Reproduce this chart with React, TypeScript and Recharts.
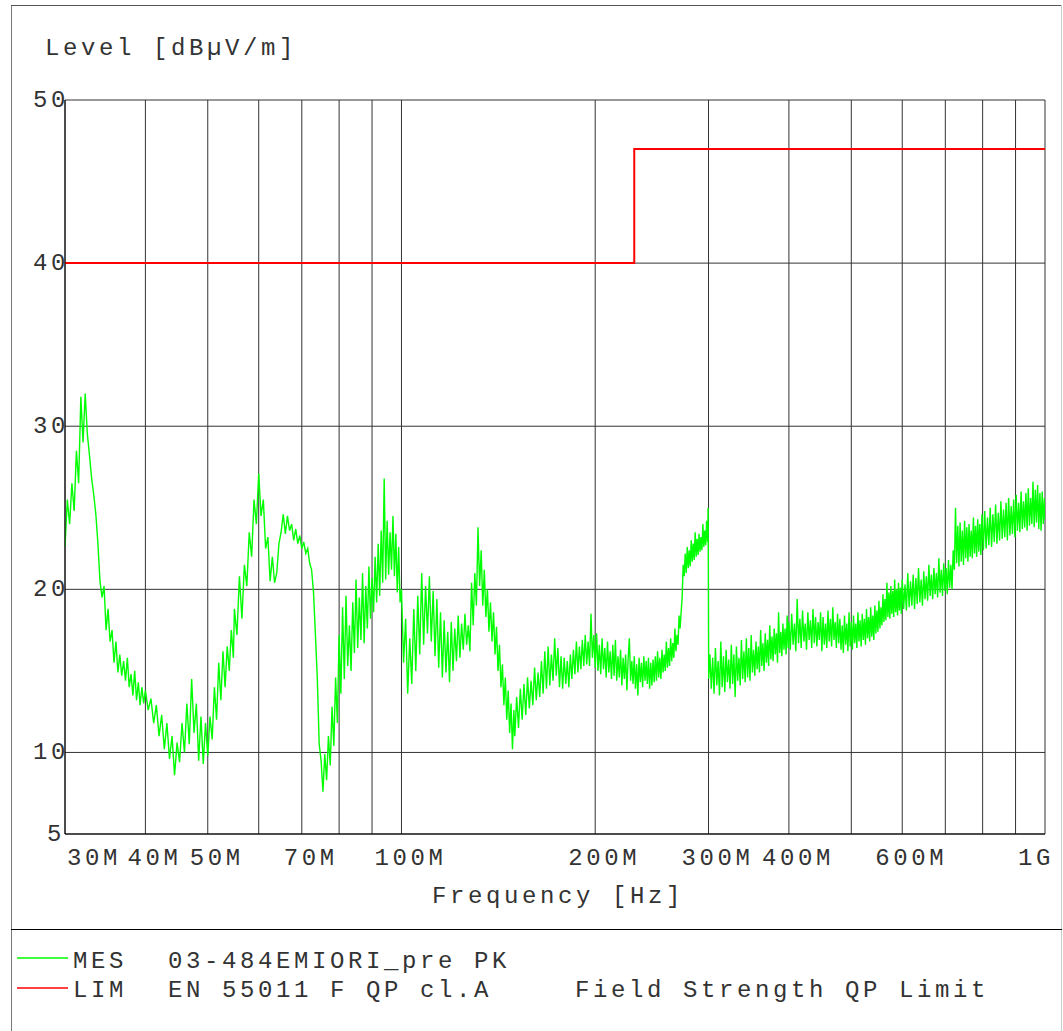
import { LineChart, Line, XAxis, YAxis, CartesianGrid } from "recharts";

// measured trace, [frequency MHz, level dBµV/m]
const mes30to75: [number, number][] = [
  [30, 22.6], [30.25, 25.5], [30.5, 24.0], [30.75, 26.5], [31, 24.8], [31.25, 28.5], [31.5, 26.5], [31.75, 31.8],
  [32, 29.0], [32.25, 32.0], [32.5, 29.5], [32.75, 28.2], [33, 26.8], [33.25, 25.8], [33.5, 24.6], [33.75, 22.8],
  [34, 20.5], [34.25, 19.5], [34.5, 20.2], [34.75, 17.5], [35, 18.8], [35.25, 16.8], [35.5, 17.5], [35.75, 15.5],
  [36, 16.8], [36.25, 14.9], [36.5, 16.0], [36.75, 14.7], [37, 15.6], [37.25, 14.4], [37.5, 15.8], [37.75, 14.0],
  [38, 14.8], [38.25, 13.5], [38.5, 15.0], [38.75, 13.2], [39, 14.3], [39.25, 12.9], [39.5, 14.0], [39.75, 13.0],
  [40, 13.8], [40.4, 12.6], [40.8, 13.3], [41.2, 11.8], [41.6, 12.9], [42, 11.0], [42.4, 12.3], [42.8, 10.2],
  [43.2, 11.8], [43.6, 9.6], [44, 11.0], [44.4, 8.6], [44.8, 10.6], [45.2, 9.4], [45.6, 11.8], [46, 10.0],
  [46.4, 13.0], [46.8, 10.5], [47.2, 14.5], [47.6, 11.2], [48, 13.0], [48.4, 9.5], [48.8, 12.2], [49.2, 9.3],
  [49.6, 11.8], [50, 9.8], [50.4, 12.2], [50.8, 10.8], [51.2, 14.0], [51.6, 12.0], [52, 15.5], [52.4, 13.2],
  [52.8, 16.2], [53.2, 14.0], [53.6, 16.5], [54, 15.0], [54.4, 17.5], [54.8, 15.8], [55, 18.8], [55.5, 17.2],
  [56, 20.8], [56.5, 18.2], [57, 21.5], [57.5, 20.2], [58, 23.5], [58.5, 22.0], [59, 25.5], [59.5, 24.0],
  [60, 27.1], [60.5, 24.5], [61, 25.5], [61.5, 22.5], [62, 23.2], [62.5, 20.5], [63, 22.0], [63.5, 20.4],
  [64, 21.0], [64.5, 22.8], [65, 23.5], [65.5, 24.6], [66, 23.4], [66.5, 24.5], [67, 23.6], [67.5, 24.0],
  [68, 23.0], [68.5, 23.7], [69, 22.8], [69.5, 23.3], [70, 22.5], [70.5, 22.9], [71, 22.2], [71.5, 22.5],
  [72, 21.6], [72.5, 21.2], [73, 19.8], [73.5, 17.2], [74, 14.5], [74.5, 10.5], [75, 9.5],
];

const mes75to100: [number, number][] = [
  [75.5, 7.6], [76, 9.9], [76.5, 8.3], [77, 11.0], [77.5, 9.2], [78, 12.8], [78.5, 10.4], [79, 14.6],
  [79.5, 11.8], [80, 17.2], [80.5, 13.6], [81, 18.9], [81.5, 14.5], [82, 19.6], [82.5, 15.3], [83, 17.8],
  [83.5, 15.0], [84, 19.2], [84.5, 16.1], [85, 20.6], [85.5, 16.4], [86, 19.5], [86.5, 16.9], [87, 21.0],
  [87.5, 16.7], [88, 20.2], [88.5, 17.6], [89, 21.4], [89.5, 18.2], [90, 20.7], [90.5, 18.6], [91, 22.0],
  [91.5, 19.2], [92, 22.8], [92.5, 19.6], [93, 23.6], [93.5, 20.4], [94, 26.8], [94.5, 20.6], [95, 24.2],
  [95.5, 20.9], [96, 23.5], [96.5, 21.2], [97, 24.5], [97.5, 20.8], [98, 23.4], [98.5, 19.8], [99, 22.6],
  [99.5, 19.2],
];

const mes100to200: [number, number][] = [
  [100, 20.0], [100.75, 15.5], [101.5, 18.2], [102.25, 13.6], [103, 17.0], [103.75, 14.2], [104.5, 18.8], [105.25, 15.0],
  [106, 19.6], [106.75, 16.0], [107.5, 21.0], [108.25, 16.6], [109, 20.2], [109.75, 17.3], [110.5, 20.8], [111.25, 16.8],
  [112, 19.9], [112.75, 15.9], [113.5, 19.4], [114.25, 15.2], [115, 18.6], [115.75, 14.6], [116.5, 18.1], [117.25, 14.9],
  [118, 17.4], [118.75, 14.3], [119.5, 18.0], [120.25, 15.0], [121, 17.6], [121.75, 15.6], [122.5, 18.4], [123.25, 15.8],
  [124, 17.9], [124.75, 16.3], [125.5, 18.5], [126.25, 16.6], [127, 17.8], [127.75, 16.2], [128.5, 20.4], [129.25, 17.8],
  [130, 21.0], [130.75, 19.0], [131.5, 23.8], [132.25, 20.2], [133, 22.4], [133.75, 19.0], [134.5, 21.2], [135.25, 18.3],
  [136, 20.0], [136.75, 17.4], [137.5, 19.2], [138.25, 16.8], [139, 18.6], [139.75, 16.0], [140.5, 17.7], [141.25, 15.0],
  [142, 16.6], [142.75, 14.0], [143.5, 15.4], [144.25, 12.9], [145, 14.6], [145.75, 12.0], [146.5, 13.8], [147.25, 11.2],
  [148, 13.0], [148.75, 10.2], [149.5, 12.6], [150, 11.0], [151, 13.4], [152, 11.5], [153, 13.9], [154, 12.0],
  [155, 14.2], [156, 12.3], [157, 14.6], [158, 12.7], [159, 14.4], [160, 12.9], [161, 15.2], [162, 13.2],
  [163, 14.9], [164, 13.4], [165, 15.6], [166, 13.6], [167, 16.2], [168, 13.9], [169, 16.5], [170, 14.1],
  [171, 16.0], [172, 14.4], [173, 17.0], [174, 14.7], [175, 16.4], [176, 14.0], [177, 15.9], [178, 13.9],
  [179, 15.8], [180, 14.2], [181, 15.6], [182, 14.0], [183, 16.0], [184, 14.5], [185, 16.3], [186, 14.8],
  [187, 16.8], [188, 14.9], [189, 16.5], [190, 15.1], [191, 16.9], [192, 15.3], [193, 17.2], [194, 15.4],
  [195, 16.8], [196, 15.3], [197, 18.5], [198, 15.8], [199, 17.2],
];

const mes200to300: [number, number][] = [
  [200, 15.2], [201, 17.3], [202, 15.0], [203, 16.6], [204, 14.8], [205, 17.0], [206, 15.1], [207, 16.4],
  [208, 14.6], [209, 16.8], [210, 14.9], [211, 16.2], [212, 14.5], [213, 16.6], [214, 14.7], [215, 16.9],
  [216, 14.4], [217, 15.9], [218, 14.6], [219, 16.3], [220, 14.1], [221, 15.8], [222, 14.5], [223, 16.0],
  [224, 13.8], [225, 15.7], [226, 17.0], [227, 14.4], [228, 15.6], [229, 14.2], [230, 15.9], [231, 13.9],
  [232, 15.4], [233, 13.5], [234, 15.8], [235, 14.3], [236, 15.5], [237, 14.0], [238, 15.9], [239, 14.4],
  [240, 15.6], [241, 14.2], [242, 15.8], [243, 13.9], [244, 15.5], [245, 14.1], [246, 15.7], [247, 14.3],
  [248, 15.9], [249, 14.4], [250, 16.2], [251, 14.6], [252, 15.8], [253, 14.5], [254, 16.3], [255, 14.9],
  [256, 16.0], [257, 15.0], [258, 16.8], [259, 15.2], [260, 16.4], [261, 15.3], [262, 17.0], [263, 15.6],
  [264, 16.7], [265, 15.8], [266, 17.6], [267, 16.2], [268, 17.2], [269, 16.6], [270, 18.4], [271, 17.6],
  [272, 18.6], [273, 19.5], [274, 21.5], [275, 20.8], [276, 22.2], [277, 21.0], [278, 22.6], [279, 21.3],
  [280, 22.4], [281, 21.4], [282, 23.0], [283, 21.7], [284, 22.8], [285, 21.8], [286, 23.5], [287, 22.0],
  [288, 23.1], [289, 22.1], [290, 23.4], [291, 22.3], [292, 23.2], [293, 22.4], [294, 24.0], [295, 22.6],
  [296, 23.6], [297, 22.7], [298, 24.2], [299, 22.9], [299.6, 25.0],
];

const mes300to600: [number, number][] = [
  [300.2, 14.5], [301.5, 16.0], [303, 13.9], [304.5, 15.8], [306, 13.6], [307.5, 16.4], [309, 14.1], [310.5, 15.6],
  [312, 13.5], [313.5, 16.8], [315, 14.0], [316.5, 15.9], [318, 13.7], [319.5, 16.3], [321, 14.3], [322.5, 15.7],
  [324, 13.9], [325.5, 16.6], [327, 14.2], [328.5, 16.0], [330, 13.4], [331.5, 16.5], [333, 14.4], [334.5, 15.8],
  [336, 14.1], [337.5, 16.9], [339, 14.5], [340.5, 16.2], [342, 14.3], [343.5, 17.0], [345, 14.6], [346.5, 16.4],
  [348, 14.4], [349.5, 17.2], [351, 14.9], [352.5, 16.3], [354, 14.7], [355.5, 16.8], [357, 15.1], [358.5, 16.5],
  [360, 14.9], [361.5, 17.5], [363, 15.3], [364.5, 16.7], [366, 15.0], [367.5, 17.3], [369, 15.5], [370.5, 16.9],
  [372, 15.3], [373.5, 17.8], [375, 15.7], [376.5, 17.1], [378, 15.6], [379.5, 17.6], [381, 16.0], [382.5, 17.3],
  [384, 15.5], [385.5, 18.6], [387, 16.1], [388.5, 17.4], [390, 15.9], [391.5, 17.9], [393, 16.3], [394.5, 17.6],
  [396, 16.0], [397.5, 18.4], [399, 16.4], [400, 18.0], [402, 16.3], [404, 18.5], [406, 16.6], [408, 17.9],
  [410, 16.2], [412, 19.4], [414, 16.7], [416, 18.2], [418, 16.4], [420, 18.7], [422, 16.8], [424, 17.9],
  [426, 16.3], [428, 18.6], [430, 16.9], [432, 18.1], [434, 16.4], [436, 18.8], [438, 16.7], [440, 18.3],
  [442, 16.5], [444, 18.0], [446, 16.9], [448, 18.6], [450, 16.2], [452, 18.3], [454, 16.6], [456, 17.9],
  [458, 16.4], [460, 18.7], [462, 16.8], [464, 18.2], [466, 16.5], [468, 18.9], [470, 16.9], [472, 18.0],
  [474, 16.4], [476, 18.5], [478, 16.7], [480, 18.2], [482, 16.3], [484, 17.8], [486, 16.1], [488, 18.4],
  [490, 16.6], [492, 17.9], [494, 16.2], [496, 18.6], [498, 16.5], [500, 18.0], [502, 16.3], [504, 18.4],
  [506, 16.7], [508, 17.9], [510, 16.4], [512, 18.6], [514, 16.8], [516, 18.1], [518, 16.5], [520, 18.5],
  [522, 16.9], [524, 18.2], [526, 16.6], [528, 18.8], [530, 17.0], [532, 18.3], [534, 16.8], [536, 18.9],
  [538, 17.1], [540, 18.4], [542, 16.9], [544, 19.0], [546, 17.3], [548, 18.7], [550, 17.4], [552, 19.3],
  [554, 17.6], [556, 18.9], [558, 17.8], [560, 19.7], [562, 18.0], [564, 19.4], [566, 18.1], [568, 20.4],
  [570, 18.3], [572, 19.8], [574, 18.2], [576, 20.2], [578, 18.5], [580, 19.9], [582, 18.3], [584, 20.6],
  [586, 18.6], [588, 20.0], [590, 18.4], [592, 20.4], [594, 18.7], [596, 20.1], [598, 18.5],
];

const mes600to1000: [number, number][] = [
  [600, 20.6], [603, 18.8], [606, 20.3], [609, 18.7], [612, 21.0], [615, 18.9], [618, 20.5], [621, 19.0],
  [624, 20.9], [627, 18.8], [630, 20.7], [633, 19.1], [636, 21.3], [639, 19.2], [642, 20.6], [645, 19.0],
  [648, 21.1], [651, 19.4], [654, 20.8], [657, 19.3], [660, 21.5], [663, 19.6], [666, 20.9], [669, 19.4],
  [672, 21.3], [675, 19.7], [678, 21.0], [681, 19.5], [684, 21.9], [687, 19.8], [690, 21.2], [693, 19.6],
  [696, 21.6], [699, 19.9], [702, 21.3], [705, 19.7], [708, 21.8], [711, 20.1], [714, 21.5], [717, 20.0],
  [720, 22.4], [723, 21.2], [726, 25.0], [729, 21.6], [732, 23.9], [735, 21.4], [738, 24.1], [741, 21.7],
  [744, 23.6], [747, 21.5], [750, 24.2], [753, 21.9], [756, 23.8], [759, 21.7], [762, 24.0], [765, 22.0],
  [768, 23.6], [771, 21.9], [774, 24.4], [777, 22.2], [780, 23.9], [783, 22.0], [786, 24.3], [789, 22.3],
  [792, 24.0], [795, 22.1], [798, 24.6], [802, 22.4], [806, 24.8], [810, 22.5], [814, 24.4], [818, 22.7],
  [822, 25.0], [826, 22.6], [830, 24.6], [834, 22.9], [838, 25.2], [842, 22.8], [846, 24.7], [850, 23.0],
  [854, 25.4], [858, 23.1], [862, 24.9], [866, 23.2], [870, 25.3], [874, 23.0], [878, 25.6], [882, 23.3],
  [886, 25.1], [890, 23.4], [894, 25.5], [898, 23.2], [902, 25.8], [906, 23.6], [910, 25.3], [914, 23.5],
  [918, 26.0], [922, 23.7], [926, 25.4], [930, 23.8], [934, 25.9], [938, 23.6], [942, 26.2], [946, 23.9],
  [950, 25.6], [954, 24.0], [958, 26.6], [962, 23.8], [966, 26.1], [970, 24.1], [974, 26.4], [978, 23.7],
  [982, 25.9], [986, 23.6], [990, 26.0], [994, 24.0], [998, 25.6], [1000, 24.3],
];

// EN 55011 class A QP limit
const limitSteps: [number, number][] = [
  [30, 40], [230, 40], [230, 47], [1000, 47],
];

const gridFreqs = [30, 40, 50, 60, 70, 80, 90, 100, 200, 300, 400, 500, 600, 700, 800, 900, 1000];
const freqLabels: Record<number, string> = {
  30: "30M", 40: "40M", 50: "50M", 70: "70M", 100: "100M",
  200: "200M", 300: "300M", 400: "400M", 600: "600M", 1000: "1G",
};
const levelTicks = [5, 10, 20, 30, 40, 50];

const legendRows = [
  { color: "#00ff00", tag: "MES", name: "03-484EMIORI_pre PK", note: "" },
  { color: "#ff0000", tag: "LIM", name: "EN 55011 F QP cl.A", note: "Field Strength QP Limit" },
];

const mesData = [
  ...mes30to75, ...mes75to100, ...mes100to200, ...mes200to300, ...mes300to600, ...mes600to1000,
].map(([f, v]) => ({ f, v }));
const limitData = limitSteps.map(([f, v]) => ({ f, v }));

const font = {
  fontFamily: "'Liberation Mono', monospace",
  fontSize: 24,
  letterSpacing: 3.6,
  fill: "#333",
};

function FreqTick(props: any) {
  const { x, payload } = props;
  const label = freqLabels[payload.value];
  if (!label) return null;
  let left = x + 7 - (label.length * 18 - 4) / 2;
  if (payload.value === 30) left = x + 2;
  if (payload.value === 1000) left = x - 27;
  return (
    <text x={left} y={865} {...font}>
      {label}
    </text>
  );
}

function LevelTick(props: any) {
  const { y, payload } = props;
  const label = String(payload.value);
  const left = label.length === 1 ? 47 : 33;
  return (
    <text x={left} y={y + 7} {...font}>
      {label}
    </text>
  );
}

export default function App() {
  return (
    <div style={{ position: "absolute", left: 0, top: 0, width: 1063, height: 1031, background: "#fff" }}>
      <LineChart width={1063} height={1031} margin={{ top: 100, right: 18, bottom: 157, left: 5 }}>
        <CartesianGrid stroke="#333" strokeWidth={1} />
        <XAxis
          dataKey="f"
          type="number"
          scale="log"
          domain={[30, 1000]}
          ticks={gridFreqs}
          interval={0}
          allowDataOverflow
          height={40}
          tickLine={false}
          axisLine={{ stroke: "#000" }}
          tick={<FreqTick />}
        />
        <YAxis
          type="number"
          domain={[5, 50]}
          ticks={levelTicks}
          interval={0}
          allowDataOverflow
          width={60}
          tickLine={false}
          axisLine={{ stroke: "#000" }}
          tick={<LevelTick />}
        />
        <Line
          data={mesData}
          dataKey="v"
          type="linear"
          stroke="#00ff00"
          strokeWidth={1.4}
          dot={false}
          isAnimationActive={false}
        />
        <Line
          data={limitData}
          dataKey="v"
          type="linear"
          stroke="#ff0000"
          strokeWidth={2}
          dot={false}
          isAnimationActive={false}
        />
      </LineChart>
      <svg
        width={1063}
        height={1031}
        style={{ position: "absolute", left: 0, top: 0, pointerEvents: "none" }}
      >
        <line x1={11.5} y1={5} x2={11.5} y2={1031} stroke="#777" />
        <line x1={11} y1={5.5} x2={1062} y2={5.5} stroke="#555" />
        <line x1={1061.5} y1={5} x2={1061.5} y2={1031} stroke="#ccc" />
        <line x1={11} y1={929.5} x2={1062} y2={929.5} stroke="#000" />
        <text x={45} y={55} {...font}>Level [dBµV/m]</text>
        <text x={432} y={903} {...font}>Frequency [Hz]</text>
        {legendRows.map((row, i) => (
          <g key={row.tag}>
            <line x1={17} y1={958 + i * 30} x2={68} y2={958 + i * 30} stroke={row.color} strokeWidth={1.5} />
            <text x={73} y={968 + i * 29} {...font}>{row.tag}</text>
            <text x={168} y={968 + i * 29} {...font}>{row.name}</text>
            {row.note && <text x={575} y={968 + i * 29} {...font}>{row.note}</text>}
          </g>
        ))}
      </svg>
    </div>
  );
}
